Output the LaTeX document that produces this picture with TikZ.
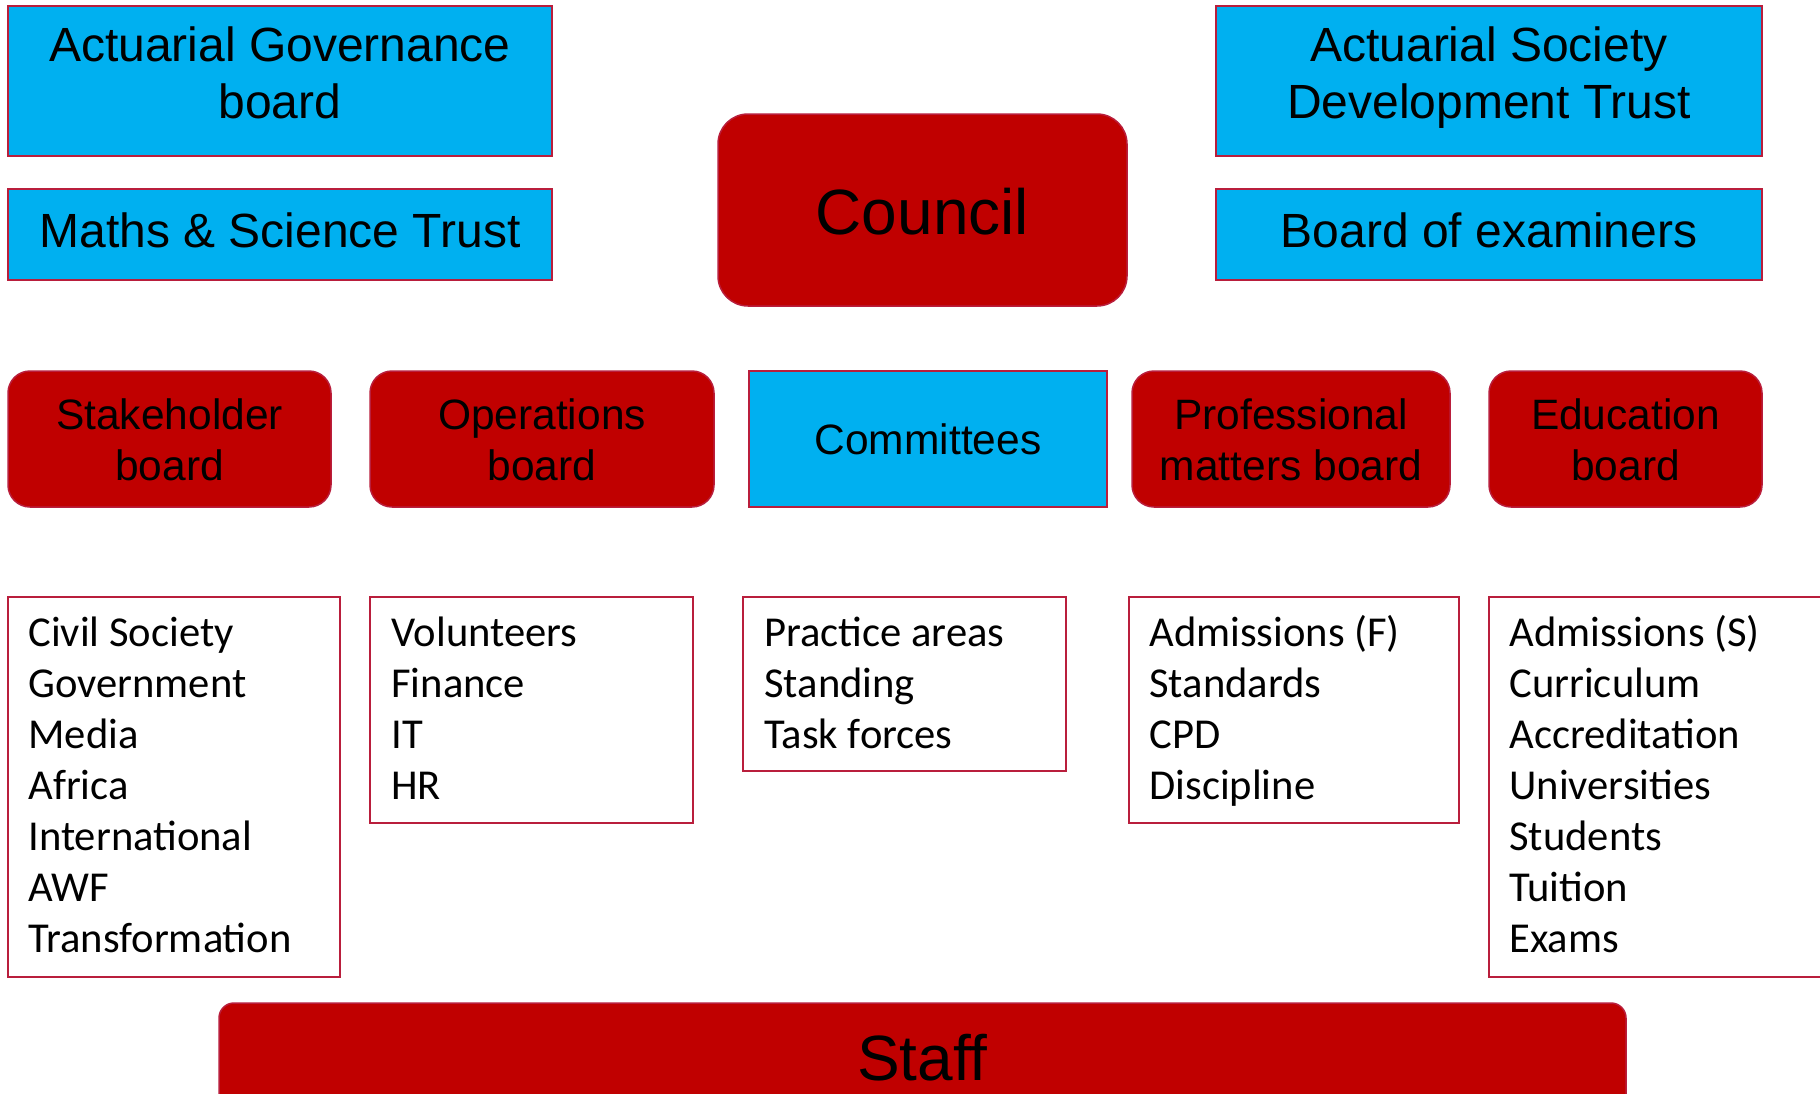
\documentclass[tikz,border=0pt]{standalone}
\usepackage{fontspec}
\setmainfont{Liberation Sans}
\newfontfamily\calib{Carlito}
\definecolor{skyb}{RGB}{0,176,240}
\definecolor{dred}{RGB}{192,0,0}
\definecolor{bord}{RGB}{185,30,60}
\begin{document}
\begin{tikzpicture}[x=0.5pt,y=-0.5pt,
  bluebox/.style={draw=bord, line width=1pt, fill=skyb, rectangle, inner sep=0},
  redbox/.style={draw=bord, line width=0.75pt, fill=dred, rectangle, rounded corners=11pt, inner sep=0},
  listbox/.style={draw=bord, line width=1pt, fill=white, rectangle, inner sep=0},
  toplbl/.style={anchor=base, inner sep=0, font=\fontsize{24}{28.5}\selectfont},
  midlbl/.style={anchor=base, inner sep=0, font=\fontsize{21.25}{25.5}\selectfont},
  biglbl/.style={anchor=base, inner sep=0, font=\fontsize{32}{38}\selectfont},
  listlbl/.style={anchor=base west, inner sep=0, font=\calib\fontsize{21.3}{25.5}\selectfont}
]
\useasboundingbox (0,0) rectangle (1820,1093);

% top row
\node[bluebox, minimum width=272pt, minimum height=75pt] (ag) at (280,81) {};
\node[bluebox, minimum width=272pt, minimum height=45.5pt] (ms) at (280,234.5) {};
\node[redbox, rounded corners=15pt, minimum width=204.5pt, minimum height=96pt] (co) at (922.5,210) {};
\node[bluebox, minimum width=273pt, minimum height=75pt] (as) at (1489,81) {};
\node[bluebox, minimum width=273pt, minimum height=45.5pt] (be) at (1489,234.5) {};

\node[toplbl] (agT) at (280,61) {\begin{tabular}[t]{@{}c@{}}Actuarial Governance\\board\end{tabular}};
\node[toplbl] (msT) at (280,247) {Maths \& Science Trust};
\node[biglbl] (coT) at (922.5,234) {Council};
\node[toplbl] (asT) at (1489,61) {\begin{tabular}[t]{@{}c@{}}Actuarial Society\\Development Trust\end{tabular}};
\node[toplbl] (beT) at (1489,247) {Board of examiners};

% second row
\node[redbox, minimum width=161.5pt, minimum height=68pt] (st) at (169.5,439) {};
\node[redbox, minimum width=172pt, minimum height=68pt] (op) at (542,439) {};
\node[bluebox, minimum width=179pt, minimum height=68pt] (cm) at (928,439) {};
\node[redbox, minimum width=159pt, minimum height=68pt] (pm) at (1291,439) {};
\node[redbox, minimum width=136.5pt, minimum height=68pt] (ed) at (1625.5,439) {};

\node[midlbl] (stT) at (169.5,429) {\begin{tabular}[t]{@{}c@{}}Stakeholder\\board\end{tabular}};
\node[midlbl] (opT) at (542,429) {\begin{tabular}[t]{@{}c@{}}Operations\\board\end{tabular}};
\node[midlbl] (cmT) at (928,454) {Committees};
\node[midlbl] (pmT) at (1291,429) {\begin{tabular}[t]{@{}c@{}}Professional\\matters board\end{tabular}};
\node[midlbl] (edT) at (1625.5,429) {\begin{tabular}[t]{@{}c@{}}Education\\board\end{tabular}};

% lists
\node[listbox, minimum width=166pt, minimum height=190pt] (l1) at (174,787) {};
\node[listbox, minimum width=161.5pt, minimum height=113pt] (l2) at (531.5,710) {};
\node[listbox, minimum width=161.5pt, minimum height=87pt] (l3) at (904.5,684) {};
\node[listbox, minimum width=165pt, minimum height=113pt] (l4) at (1294,710) {};
\node[listbox, minimum width=180.5pt, minimum height=190pt] (l5) at (1669.5,787) {};

\node[listlbl] (l1T) at (28,646) {\begin{tabular}[t]{@{}l@{}}Civil Society\\Government\\Media\\Africa\\International\\AWF\\Transformation\end{tabular}};
\node[listlbl] (l2T) at (391,646) {\begin{tabular}[t]{@{}l@{}}Volunteers\\Finance\\IT\\HR\end{tabular}};
\node[listlbl] (l3T) at (764,646) {\begin{tabular}[t]{@{}l@{}}Practice areas\\Standing\\Task forces\end{tabular}};
\node[listlbl] (l4T) at (1149,646) {\begin{tabular}[t]{@{}l@{}}Admissions (F)\\Standards\\CPD\\Discipline\end{tabular}};
\node[listlbl] (l5T) at (1509,646) {\begin{tabular}[t]{@{}l@{}}Admissions (S)\\Curriculum\\Accreditation\\Universities\\Students\\Tuition\\Exams\end{tabular}};

% staff
\node[redbox, rounded corners=7.5pt, minimum width=703.5pt, minimum height=65pt] (sf) at (922.5,1068) {};
\node[biglbl] (sfT) at (922.5,1080) {Staff};
\end{tikzpicture}
\end{document}
